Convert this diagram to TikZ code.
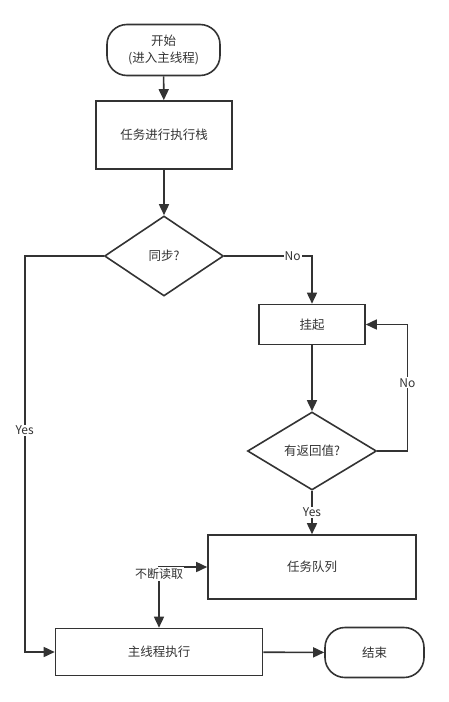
\documentclass[tikz,border=0pt]{standalone}
\usepackage{fontspec}
\setmainfont{Noto Sans CJK SC}
\usetikzlibrary{shapes.geometric,arrows.meta}
\definecolor{fcline}{HTML}{333333}
\begin{document}
\begin{tikzpicture}[x=1pt,y=-1pt,
every node/.style={font=\fontsize{12.5}{17}\selectfont, text=fcline},
fbox/.style={draw=fcline, line width=1.6pt, rectangle, inner sep=0pt, align=center},
fterm/.style={fbox, rounded corners=20pt},
fdec/.style={draw=fcline, line width=1.6pt, diamond, aspect=1.5, inner sep=0pt},
flow/.style={draw=fcline, line width=1.6pt, -{Triangle[length=11pt,width=10pt]}},
fboth/.style={flow, {Triangle[length=11pt,width=10pt]}-{Triangle[length=11pt,width=10pt]}},
flbl/.style={fill=white, inner sep=1pt, font=\fontsize{12}{14}\selectfont}]
\useasboundingbox (0,0) rectangle (449,702);
\node[fterm, minimum width=113pt, minimum height=51pt] (fc0) at (163.5,50){开始\\(进入主线程)};
\node[fbox, minimum width=136pt, minimum height=68pt] (fc1) at (164,135){任务进行执行栈};
\node[fdec, minimum width=119pt, minimum height=80pt] (fc2) at (164,256){同步?};
\node[fbox, minimum width=106pt, minimum height=40pt] (fc3) at (312,324.5){挂起};
\node[fdec, minimum width=129pt, minimum height=78pt] (fc4) at (312,451){有返回值?};
\node[fbox, minimum width=208pt, minimum height=64pt] (fc5) at (312,567){任务队列};
\node[fbox, minimum width=207pt, minimum height=47pt] (fc6) at (159,652){主线程执行};
\node[fterm, minimum width=99pt, minimum height=50pt] (fc7) at (374.5,652.5){结束};
\draw[flow](fc0) -- (fc1);
\draw[flow](fc1) -- (fc2);
\draw[flow](fc2.east) -| node[flbl,pos=0.39]{No} (fc3.north);
\draw[flow](fc3) -- (fc4);
\draw[flow](fc4.east) -- ++(30,0) |- node[flbl,pos=0.27]{No} (fc3.east);
\draw[flow](fc4) -- node[flbl]{Yes} (fc5);
\draw[flow](fc2.west) -- ++(-79,0) |- node[flbl,pos=0.22]{Yes} (fc6.west);
\draw[fboth](fc5.west) -| node[flbl,yshift=-7pt]{不断读取} (fc6.north);
\draw[flow](fc6) -- (fc7);
\end{tikzpicture}
\end{document}
